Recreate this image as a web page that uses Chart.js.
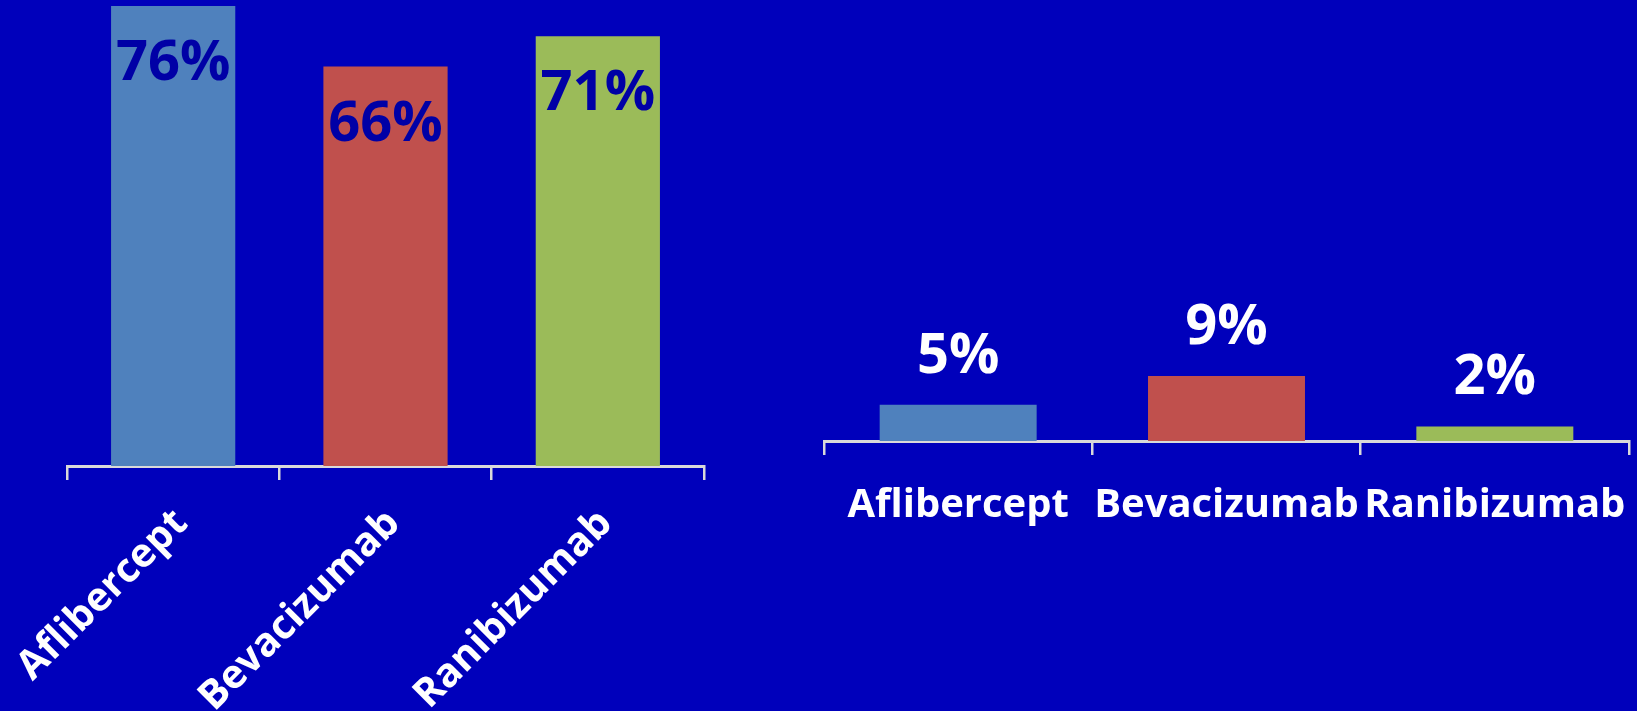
<!DOCTYPE html>
<html lang="en">

<head>
  <meta charset="UTF-8" />
  <title>Anti-VEGF results</title>
  <script src="https://cdn.jsdelivr.net/npm/chart.js"></script>
  <style>
    html, body {
      margin: 0;
      padding: 0;
      background: #0000bb;
      width: 1637px;
      height: 711px;
      overflow: hidden;
    }
    .panel {
      position: absolute;
      top: 0;
      height: 711px;
    }
    #leftPanel { left: 0; width: 720px; }
    #rightPanel { left: 760px; width: 877px; }
  </style>
</head>

<body>
  <div class="panel" id="leftPanel"><canvas id="chartLeft" width="720" height="711"></canvas></div>
  <div class="panel" id="rightPanel"><canvas id="chartRight" width="877" height="711"></canvas></div>

  <script>
    const drugs = ['Aflibercept', 'Bevacizumab', 'Ranibizumab'];
    const leftValues = [76, 66, 71];
    const rightValues = [5, 9, 2];
    const barColors = ['#4f81bd', '#c0504d', '#9bbb59'];

    const FONT = '"Open Sans", "Liberation Sans", sans-serif';
    const axisGray = '#d9d9d9';

    // writes "NN%" on each bar; inside (offset > 0) or above (offset < 0)
    function valueLabels(color, offset) {
      return {
        id: 'valueLabels',
        afterDatasetsDraw(chart) {
          const ctx = chart.ctx;
          const meta = chart.getDatasetMeta(0);
          const vals = chart.data.datasets[0].data;
          ctx.save();
          ctx.font = 'bold 56px ' + FONT;
          ctx.fillStyle = color;
          ctx.textAlign = 'center';
          ctx.textBaseline = 'middle';
          meta.data.forEach((bar, i) => {
            ctx.fillText(vals[i] + '%', bar.x, bar.y + offset);
          });
          ctx.restore();
        }
      };
    }

    function makeChart(id, values, yMax, axisHeight, pad, tickOpts, labelPlugin) {
      return new Chart(document.getElementById(id), {
        type: 'bar',
        data: {
          labels: drugs,
          datasets: [{
            data: values,
            backgroundColor: barColors,
            borderWidth: 0,
            barPercentage: 0.585,
            categoryPercentage: 1
          }]
        },
        options: {
          responsive: false,
          animation: false,
          devicePixelRatio: 1,
          layout: { padding: pad },
          plugins: {
            legend: { display: false },
            tooltip: { enabled: false }
          },
          scales: {
            y: { display: false, min: 0, max: yMax },
            x: {
              offset: true,
              border: { display: true, color: axisGray, width: 3 },
              grid: {
                offset: true,
                drawOnChartArea: false,
                drawTicks: true,
                tickLength: 14,
                color: axisGray,
                lineWidth: 2.5
              },
              ticks: Object.assign({
                color: '#ffffff',
                autoSkip: false
              }, tickOpts),
              afterFit(scale) {
                scale.height = axisHeight;
                scale.paddingLeft = 0;
                scale.paddingRight = 0;
              }
            }
          }
        },
        plugins: [labelPlugin]
      });
    }

    // left: share at month 12, labels inside the bars
    makeChart('chartLeft', leftValues, 77, 245,
      { left: 67, right: 16, top: 0, bottom: 0 },
      { minRotation: 45, maxRotation: 45, padding: 20, labelOffset: 8, font: { family: FONT, weight: 'bold', size: 40 } },
      valueLabels('#0000a6', 58));

    // right: small percentages, labels above the bars
    makeChart('chartRight', rightValues, 61, 270,
      { left: 64, right: 8, top: 0, bottom: 0 },
      { minRotation: 0, maxRotation: 0, padding: 27, font: { family: FONT, weight: 'bold', size: 40 } },
      valueLabels('#ffffff', -48));
  </script>
</body>

</html>
